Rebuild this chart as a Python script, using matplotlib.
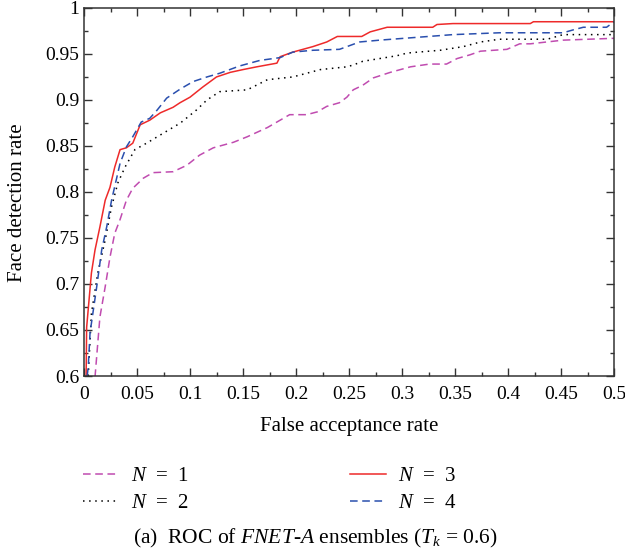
import matplotlib
matplotlib.use("Agg")
import matplotlib.pyplot as plt
from matplotlib.ticker import MultipleLocator


# ======================================
# ROC DATA (false acceptance, detection)
# ======================================

far_n1 = [0.0104, 0.015, 0.020, 0.0245, 0.029, 0.034, 0.040, 0.046, 0.056, 0.065,
          0.084, 0.097, 0.109, 0.122, 0.141, 0.154, 0.173, 0.185, 0.194, 0.210,
          0.220, 0.229, 0.241, 0.248, 0.254, 0.263, 0.273, 0.289, 0.308, 0.326,
          0.342, 0.352, 0.364, 0.374, 0.399, 0.411, 0.421, 0.452, 0.500]
fdr_n1 = [0.599, 0.664, 0.697, 0.729, 0.755, 0.770, 0.791, 0.804, 0.815, 0.821,
          0.822, 0.829, 0.840, 0.848, 0.854, 0.860, 0.870, 0.878, 0.884, 0.884,
          0.887, 0.893, 0.897, 0.903, 0.911, 0.916, 0.924, 0.930, 0.936, 0.939,
          0.939, 0.945, 0.949, 0.953, 0.955, 0.961, 0.961, 0.965, 0.967]

far_n2 = [0.004, 0.007, 0.013, 0.020, 0.026, 0.032, 0.0387, 0.048, 0.059, 0.075,
          0.091, 0.106, 0.116, 0.128, 0.154, 0.173, 0.197, 0.223, 0.248, 0.254,
          0.263, 0.295, 0.305, 0.336, 0.358, 0.374, 0.392, 0.437, 0.452, 0.500]
fdr_n2 = [0.600, 0.668, 0.712, 0.748, 0.784, 0.810, 0.827, 0.846, 0.853, 0.864,
          0.875, 0.889, 0.900, 0.909, 0.911, 0.922, 0.925, 0.933, 0.936, 0.938,
          0.942, 0.948, 0.951, 0.954, 0.958, 0.963, 0.966, 0.966, 0.971, 0.971]

far_n3 = [0.002, 0.0025, 0.007, 0.0104, 0.015, 0.020, 0.0245, 0.029, 0.034, 0.040,
          0.046, 0.053, 0.062, 0.072, 0.084, 0.0906, 0.100, 0.112, 0.125, 0.138,
          0.150, 0.163, 0.182, 0.185, 0.197, 0.216, 0.229, 0.239, 0.262, 0.270,
          0.286, 0.329, 0.333, 0.348, 0.421, 0.424, 0.500]
fdr_n3 = [0.600, 0.653, 0.712, 0.737, 0.762, 0.791, 0.805, 0.827, 0.846, 0.848,
          0.853, 0.873, 0.878, 0.886, 0.892, 0.897, 0.903, 0.914, 0.925, 0.930,
          0.933, 0.936, 0.940, 0.947, 0.952, 0.958, 0.963, 0.969, 0.969, 0.974,
          0.979, 0.979, 0.982, 0.983, 0.983, 0.985, 0.985]

far_n4 = [0.003, 0.004, 0.0057, 0.012, 0.0167, 0.0214, 0.026, 0.034, 0.040, 0.046,
          0.054, 0.062, 0.069, 0.078, 0.091, 0.103, 0.116, 0.128, 0.147, 0.166,
          0.185, 0.197, 0.216, 0.241, 0.260, 0.279, 0.348, 0.392, 0.452, 0.461,
          0.471, 0.493, 0.500]
fdr_n4 = [0.600, 0.610, 0.647, 0.697, 0.737, 0.762, 0.791, 0.831, 0.849, 0.860,
          0.876, 0.880, 0.889, 0.902, 0.912, 0.920, 0.925, 0.929, 0.937, 0.943,
          0.946, 0.952, 0.954, 0.955, 0.963, 0.965, 0.971, 0.973, 0.973, 0.976,
          0.979, 0.979, 0.985]

x_ticks = [0, 0.05, 0.1, 0.15, 0.2, 0.25, 0.3, 0.35, 0.4, 0.45, 0.5]
x_tick_labels = ["0", "0.05", "0.1", "0.15", "0.2", "0.25", "0.3",
                 "0.35", "0.4", "0.45", "0.5"]
y_ticks = [0.6, 0.65, 0.7, 0.75, 0.8, 0.85, 0.9, 0.95, 1.0]
y_tick_labels = ["0.6", "0.65", "0.7", "0.75", "0.8", "0.85", "0.9",
                 "0.95", "1"]


# ======================================
# STYLE
# ======================================

plt.rcParams["font.family"] = ["Liberation Serif", "DejaVu Serif"]
plt.rcParams["mathtext.fontset"] = "custom"
plt.rcParams["mathtext.rm"] = "Liberation Serif"
plt.rcParams["mathtext.it"] = "Liberation Serif:italic"

fig = plt.figure(figsize=(6.25, 5.51), dpi=100)
ax = fig.add_axes([0.1344, 0.3176, 0.848, 0.668])


# ======================================
# PLOT CURVES
# ======================================

l1, = ax.plot(far_n1, fdr_n1, color="#c04cb0", linestyle=(0, (5, 3)),
              linewidth=1.1, label="$N$  =  1")
l2, = ax.plot(far_n2, fdr_n2, color="black", linestyle=(0, (1, 3)),
              linewidth=1.1, label="$N$  =  2")
l3, = ax.plot(far_n3, fdr_n3, color="#ee2a2a", linestyle="-",
              linewidth=1.1, label="$N$  =  3")
l4, = ax.plot(far_n4, fdr_n4, color="#2a4fae", linestyle=(0, (5, 3)),
              linewidth=1.1, label="$N$  =  4")

ax.set_xlim(0, 0.5)
ax.set_ylim(0.6, 1.0)

ax.set_xticks(x_ticks)
ax.set_xticklabels(x_tick_labels)
ax.set_yticks(y_ticks)
ax.set_yticklabels(y_tick_labels)
ax.xaxis.set_minor_locator(MultipleLocator(0.025))
ax.yaxis.set_minor_locator(MultipleLocator(0.025))

ax.tick_params(which="both", direction="in", top=True, right=True,
               color="#333333", labelsize=14)
ax.tick_params(which="major", length=6, width=1)
ax.tick_params(which="minor", length=3, width=1)
ax.tick_params(axis="x", pad=7)
for spine in ax.spines.values():
    spine.set_color("#333333")
    spine.set_linewidth(1.1)

ax.set_xlabel("False acceptance rate", fontsize=15, labelpad=10)
ax.set_ylabel("Face detection rate", fontsize=15)
ax.yaxis.set_label_coords(-0.108, 0.47)

fig.legend(handles=[l1, l2, l3, l4], ncol=2, frameon=False,
           loc="center left", bbox_to_anchor=(0.1328, 0.111),
           borderpad=0, borderaxespad=0,
           fontsize=15, handlelength=1.73, columnspacing=7.7,
           labelspacing=0.35, handletextpad=0.58)

fig.text(0.505, 0.022, "(a)  ROC of $\\it{FNET}$-$\\it{A}$ ensembles ($T_k$ = 0.6)",
         ha="center", va="center", fontsize=15.5)

plt.savefig("out.png", dpi=100)
